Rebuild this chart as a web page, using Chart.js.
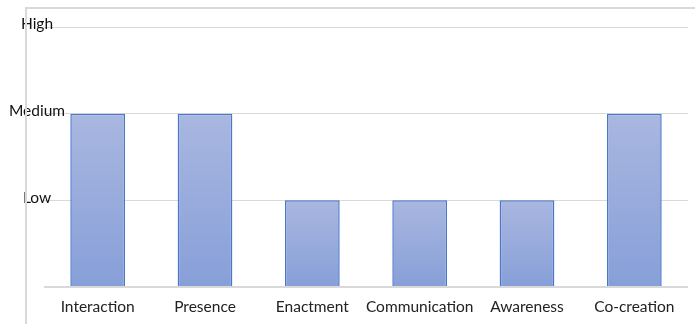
<!DOCTYPE html>
<html>
<head>
<meta charset="utf-8">
<script src="https://cdn.jsdelivr.net/npm/chart.js@4"></script>
<style>
  body { margin: 0; background: #fff; }
  #wrap { position: relative; width: 695px; height: 324px; }
  #frame { position: absolute; left: 25px; top: 7px; right: -5px; bottom: -5px;
           border-left: 2px solid #d9d9d9; border-top: 2px solid #d9d9d9; }
</style>
</head>
<body>
<div id="wrap">
  <div id="frame"></div>
  <canvas id="chart1" width="695" height="324"></canvas>
</div>
<script>
var categories = ['Interaction', 'Presence', 'Enactment', 'Communication', 'Awareness', 'Co-creation'];
var levels = [2, 2, 1, 1, 1, 2];
var levelLabels = ['', 'Low', 'Medium', 'High'];

// vertical gradient per bar, light at the top, darker at the base
function barFill(c) {
  var chart = c.chart;
  if (!chart.chartArea) return '#98abdc';
  var y = chart.scales.y;
  var top = y.getPixelForValue(c.raw);
  var bot = y.getPixelForValue(0);
  var g = chart.ctx.createLinearGradient(0, top, 0, bot);
  g.addColorStop(0, '#a9b7e0');
  g.addColorStop(1, '#879fd8');
  return g;
}

// level names sit over the start of each gridline, like the original
var levelNames = {
  id: 'levelNames',
  afterDraw: function (chart) {
    var ctx = chart.ctx;
    var y = chart.scales.y;
    ctx.save();
    ctx.font = '15.5px Lato';
    ctx.fillStyle = '#111';
    ctx.textAlign = 'center';
    ctx.textBaseline = 'bottom';
    y.ticks.forEach(function (t) {
      var name = levelLabels[t.value];
      if (name) ctx.fillText(name, 37, y.getPixelForValue(t.value) + 5);
    });
    ctx.restore();
  }
};

var graph = document.getElementById('chart1');

var myChart = new Chart(graph, {
  type: 'bar',
  data: {
    labels: categories,
    datasets: [{
      data: levels,
      backgroundColor: barFill,
      borderColor: '#4a78c8',
      borderWidth: 1.5,
      barPercentage: 0.51,
      categoryPercentage: 1
    }]
  },
  options: {
    responsive: false,
    animation: false,
    layout: { padding: { top: 27, right: 7, left: 0, bottom: 0 } },
    plugins: {
      legend: { display: false },
      tooltip: { enabled: false }
    },
    scales: {
      x: {
        grid: { display: false },
        border: { display: false },
        ticks: {
          color: '#222',
          padding: 3,
          autoSkip: false,
          maxRotation: 0,
          font: { family: 'Lato', size: 15.5 }
        },
        afterFit: function (s) { s.height = 37; }
      },
      y: {
        min: 0,
        max: 3,
        border: { display: false },
        grid: {
          drawTicks: false,
          color: '#d9d9d9',
          lineWidth: function (c) { return c.tick && c.tick.value === 0 ? 2 : 1; }
        },
        ticks: { stepSize: 1, display: false },
        afterFit: function (s) { s.width = 44; }
      }
    }
  },
  plugins: [levelNames]
});
</script>
</body>
</html>
